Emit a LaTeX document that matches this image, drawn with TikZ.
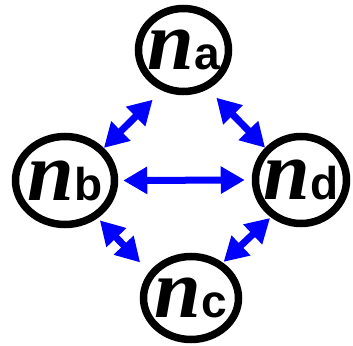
\documentclass[tikz,border=0pt]{standalone}
\usepackage{fontspec}
\usepackage{tikz}
\usetikzlibrary{arrows.meta, shapes.geometric}

\newfontfamily\nfont{Liberation Serif}
\newfontfamily\subfont{Liberation Sans}
\newcommand{\nodename}[1]{\makebox[0pt][c]{{\nfont\bfseries\itshape\fontsize{84}{84}\selectfont n}{\subfont\bfseries\fontsize{46}{46}\selectfont #1}}}

\begin{document}
\begin{tikzpicture}[x=1pt, y=-1pt,
    state/.style={ellipse, draw, line width=7.5pt, inner sep=0pt},
    link/.style={blue, line width=7pt, {Triangle[length=24pt,width=26pt]}-{Triangle[length=24pt,width=26pt]}}]
    \useasboundingbox (0,0) rectangle (353,345);

    \node[state, minimum width=90pt, minimum height=83pt] (na) at (183.5,50) {\nodename{a}};
    \node[state, minimum width=99pt, minimum height=88pt] (nb) at (65,180.5) {\nodename{b}};
    \node[state, minimum width=91pt, minimum height=87pt] (nd) at (301,180) {\nodename{d}};
    \node[state, minimum width=95pt, minimum height=83pt] (nc) at (191,298) {\nodename{c}};

    \draw[link, shorten <=5pt, shorten >=7pt] (nb.east) -- (nd.west);
    \draw[link, shorten <=13pt] (na.242) -- (nb.40);
    \draw[link, shorten <=12pt] (na.302) -- (nd.138);
    \draw[link, shorten <=3pt, shorten >=13pt] (nb.311) -- (nc.148);
    \draw[link, shorten <=1pt, shorten >=1pt] (nd.231) -- (nc.48);
\end{tikzpicture}
\end{document}
